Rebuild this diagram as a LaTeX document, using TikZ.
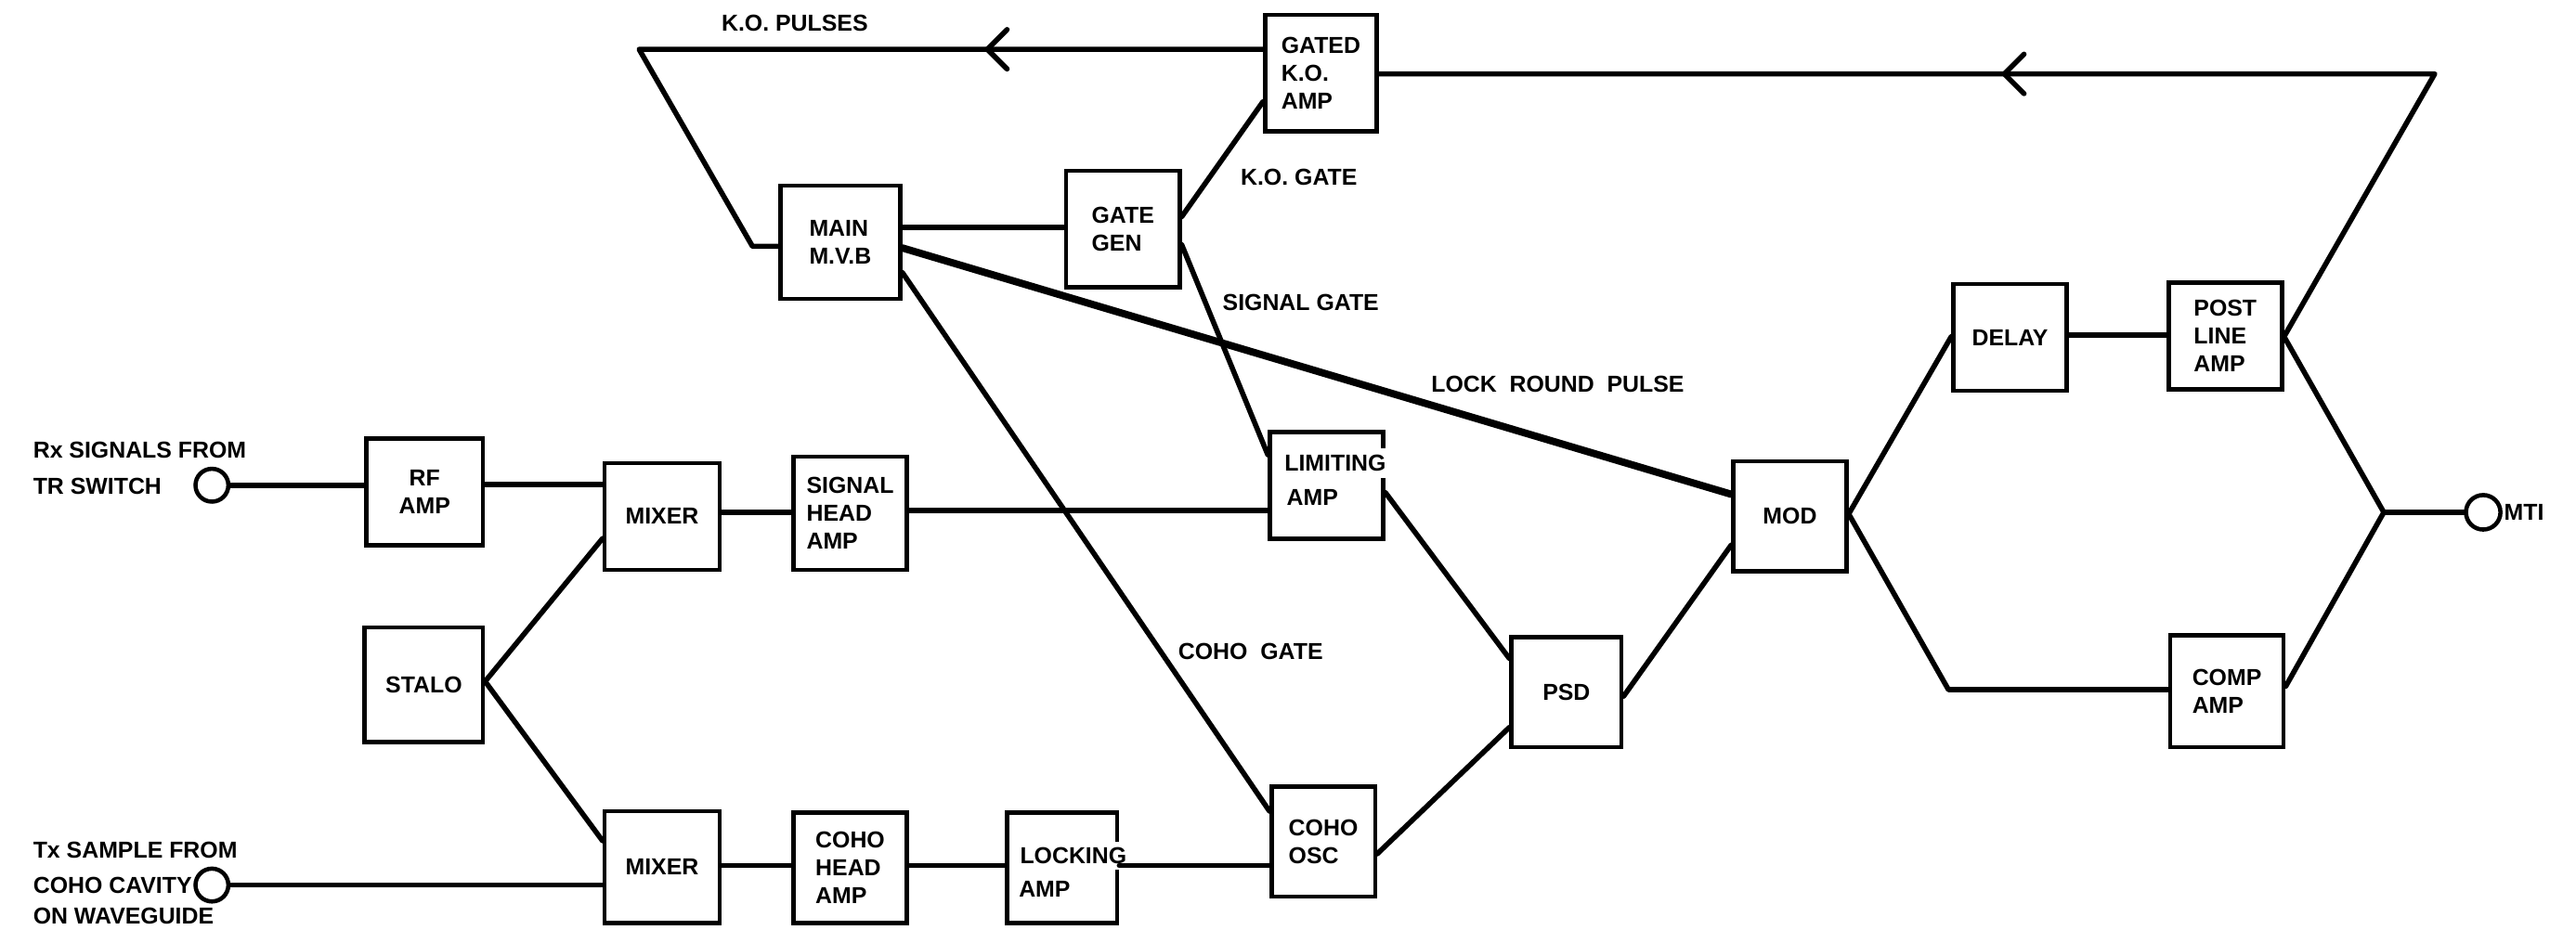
\documentclass[tikz,border=0pt]{standalone}
\usepackage{fontspec}
\setmainfont{Liberation Sans}
\begin{document}
\begin{tikzpicture}[x=0.03cm,y=-0.03cm,
  every node/.style={font=\bfseries\fontsize{12}{14.5}\selectfont},
  box/.style={draw, line width=2.2pt, inner sep=0pt, align=left},
  wire/.style={line width=2.7pt, line join=round, line cap=round},
  thickwire/.style={line width=3.8pt, line cap=round},
  port/.style={draw, circle, line width=2.2pt, minimum size=0.6cm, inner sep=0pt},
  lbl/.style={inner sep=0pt, anchor=west},
  chev/.style={line width=2.7pt, line cap=round, line join=round}]
\useasboundingbox (0,0) rectangle (1568,566);

% ports
\node[port] (rxc) at (129,295.5) {};
\node[port] (txc) at (129,539) {};
\node[port, minimum size=0.63cm] (mtc) at (1511.5,312) {};

% boxes
\node[box, align=center, minimum width=2.13cm, minimum height=1.95cm] (rf) at (258.5,299.5) {RF\\AMP};
\node[box, minimum width=2.10cm, minimum height=1.95cm] (mix1) at (403,314.5) {MIXER};
\node[box, minimum width=2.16cm, minimum height=2.10cm] (stalo) at (258,417) {STALO};
\node[box, minimum width=2.10cm, minimum height=2.04cm] (mix2) at (403,528) {MIXER};
\node[box, minimum width=2.07cm, minimum height=2.07cm] (sha) at (517.5,312.5) {SIGNAL\\HEAD\\AMP};
\node[box, minimum width=2.07cm, minimum height=2.01cm] (cha) at (517.5,528.5) {COHO\\HEAD\\AMP};
\node[box, minimum width=2.01cm, minimum height=2.01cm] (lock) at (646.5,528.5) {};
\node[lbl, anchor=base west, fill=white, inner xsep=0.6pt, inner ysep=3pt] (lockt) at (620,526) {LOCKING};
\node[lbl, anchor=base west] (lockt2) at (620,546.5) {AMP};
\node[box, minimum width=2.07cm, minimum height=1.95cm] (lim) at (807.5,295.5) {};
\node[lbl, anchor=base west, fill=white, inner xsep=0.6pt, inner ysep=3.5pt] (limt) at (781,287) {LIMITING};
\node[lbl, anchor=base west] (limt2) at (783,307.5) {AMP};
\node[box, minimum width=1.89cm, minimum height=2.01cm] (osc) at (805.5,512.5) {COHO\\OSC};
\node[box, minimum width=2.01cm, minimum height=2.01cm] (psd) at (953.5,421.5) {PSD};
\node[box, minimum width=2.07cm, minimum height=2.01cm] (mod) at (1089.5,314.5) {MOD};
\node[box, minimum width=2.07cm, minimum height=1.95cm] (delay) at (1223.5,205.5) {DELAY};
\node[box, minimum width=2.07cm, minimum height=1.95cm] (post) at (1354.5,204.5) {POST\\LINE\\AMP};
\node[box, minimum width=2.07cm, minimum height=2.04cm] (comp) at (1355.5,421) {COMP\\AMP};
\node[box, minimum width=2.19cm, minimum height=2.07cm] (mvb) at (511.5,147.5) {MAIN\\M.V.B};
\node[box, minimum width=2.07cm, minimum height=2.13cm] (gate) at (683.5,139.5) {GATE\\GEN};
\node[box, minimum width=2.04cm, minimum height=2.13cm] (gko) at (804,44.5) {GATED\\K.O.\\AMP};

% labels
\node[lbl] (rxl1) at (20,274) {Rx SIGNALS FROM};
\node[lbl] (rxl2) at (20,296) {TR SWITCH};
\node[lbl] (txl1) at (20,518) {Tx SAMPLE FROM};
\node[lbl] (txl2) at (20,539) {COHO CAVITY};
\node[lbl] (txl3) at (20,558) {ON WAVEGUIDE};
\node[lbl] (kop) at (439,14) {K.O. PULSES};
\node[lbl] (kog) at (755,108) {K.O. GATE};
\node[lbl] (sgg) at (744,184) {SIGNAL GATE};
\node[lbl] (lrp) at (871,234) {LOCK\ \ ROUND\ \ PULSE};
\node[lbl] (chg) at (717,397) {COHO\ \ GATE};
\node[lbl] (mti) at (1524,312) {MTI};

% corner points
\coordinate (ko1) at (389,30);
\coordinate (ko2) at (458,150);
\coordinate (tr) at (1482,45);
\coordinate (jn) at (1451,312);
\coordinate (bl) at (1186,420);

% connectors
\draw[wire] (rxc.east) -- (rxc.east -| rf.west);
\draw[wire] (rf.east |- 0,295) -- (mix1.west |- 0,295);
\draw[wire] (stalo.east |- 0,415) -- (mix1.west |- 0,328);
\draw[wire] (stalo.east |- 0,415) -- (mix2.west |- 0,512);
\draw[wire] (txc.east) -- (txc.east -| mix2.west);
\draw[wire] (mix1.east |- 0,312) -- (sha.west |- 0,312);
\draw[wire] (sha.east |- 0,311) -- (lim.west |- 0,311);
\draw[wire] (mix2.east |- 0,527) -- (cha.west |- 0,527);
\draw[wire] (cha.east |- 0,527) -- (lock.west |- 0,527);
\draw[wire] (lock.east |- 0,527) -- (osc.west |- 0,527);
\draw[wire] (lim.east |- 0,300) -- (psd.west |- 0,401);
\draw[wire] (osc.east |- 0,520) -- (psd.west |- 0,443);
\draw[wire] (psd.east |- 0,424) -- (mod.west |- 0,332);
\draw[wire] (mod.east |- 0,313) -- (delay.west |- 0,205);
\draw[wire] (mod.east |- 0,313) -- (bl) -- (comp.west |- bl);
\draw[wire] (delay.east |- 0,204) -- (post.west |- 0,204);
\draw[wire] (post.east |- 0,205) -- (tr) -- (tr -| gko.east);
\draw[wire] (post.east |- 0,205) -- (jn) -- (comp.east |- 0,418);
\draw[wire] (jn) -- (mtc.west);
\draw[wire] (gko.west |- 0,30) -- (ko1) -- (ko2) -- (ko2 -| mvb.west);
\draw[wire] (mvb.east |- 0,138.5) -- (gate.west |- 0,138.5);
\draw[wire] (gate.east |- 0,132) -- (gko.west |- 0,62);
\draw[wire] (gate.east |- 0,149) -- (lim.west |- 0,277);
\draw[thickwire] (mvb.east |- 0,151) -- (mod.west |- 0,301);
\draw[wire] (mvb.east |- 0,166) -- (osc.west |- 0,494);

% chevron arrowheads
\draw[chev] (613,18) -- (601,30) -- (613,42);
\draw[chev] (1232,33) -- (1220,45) -- (1232,57);
\end{tikzpicture}
\end{document}
